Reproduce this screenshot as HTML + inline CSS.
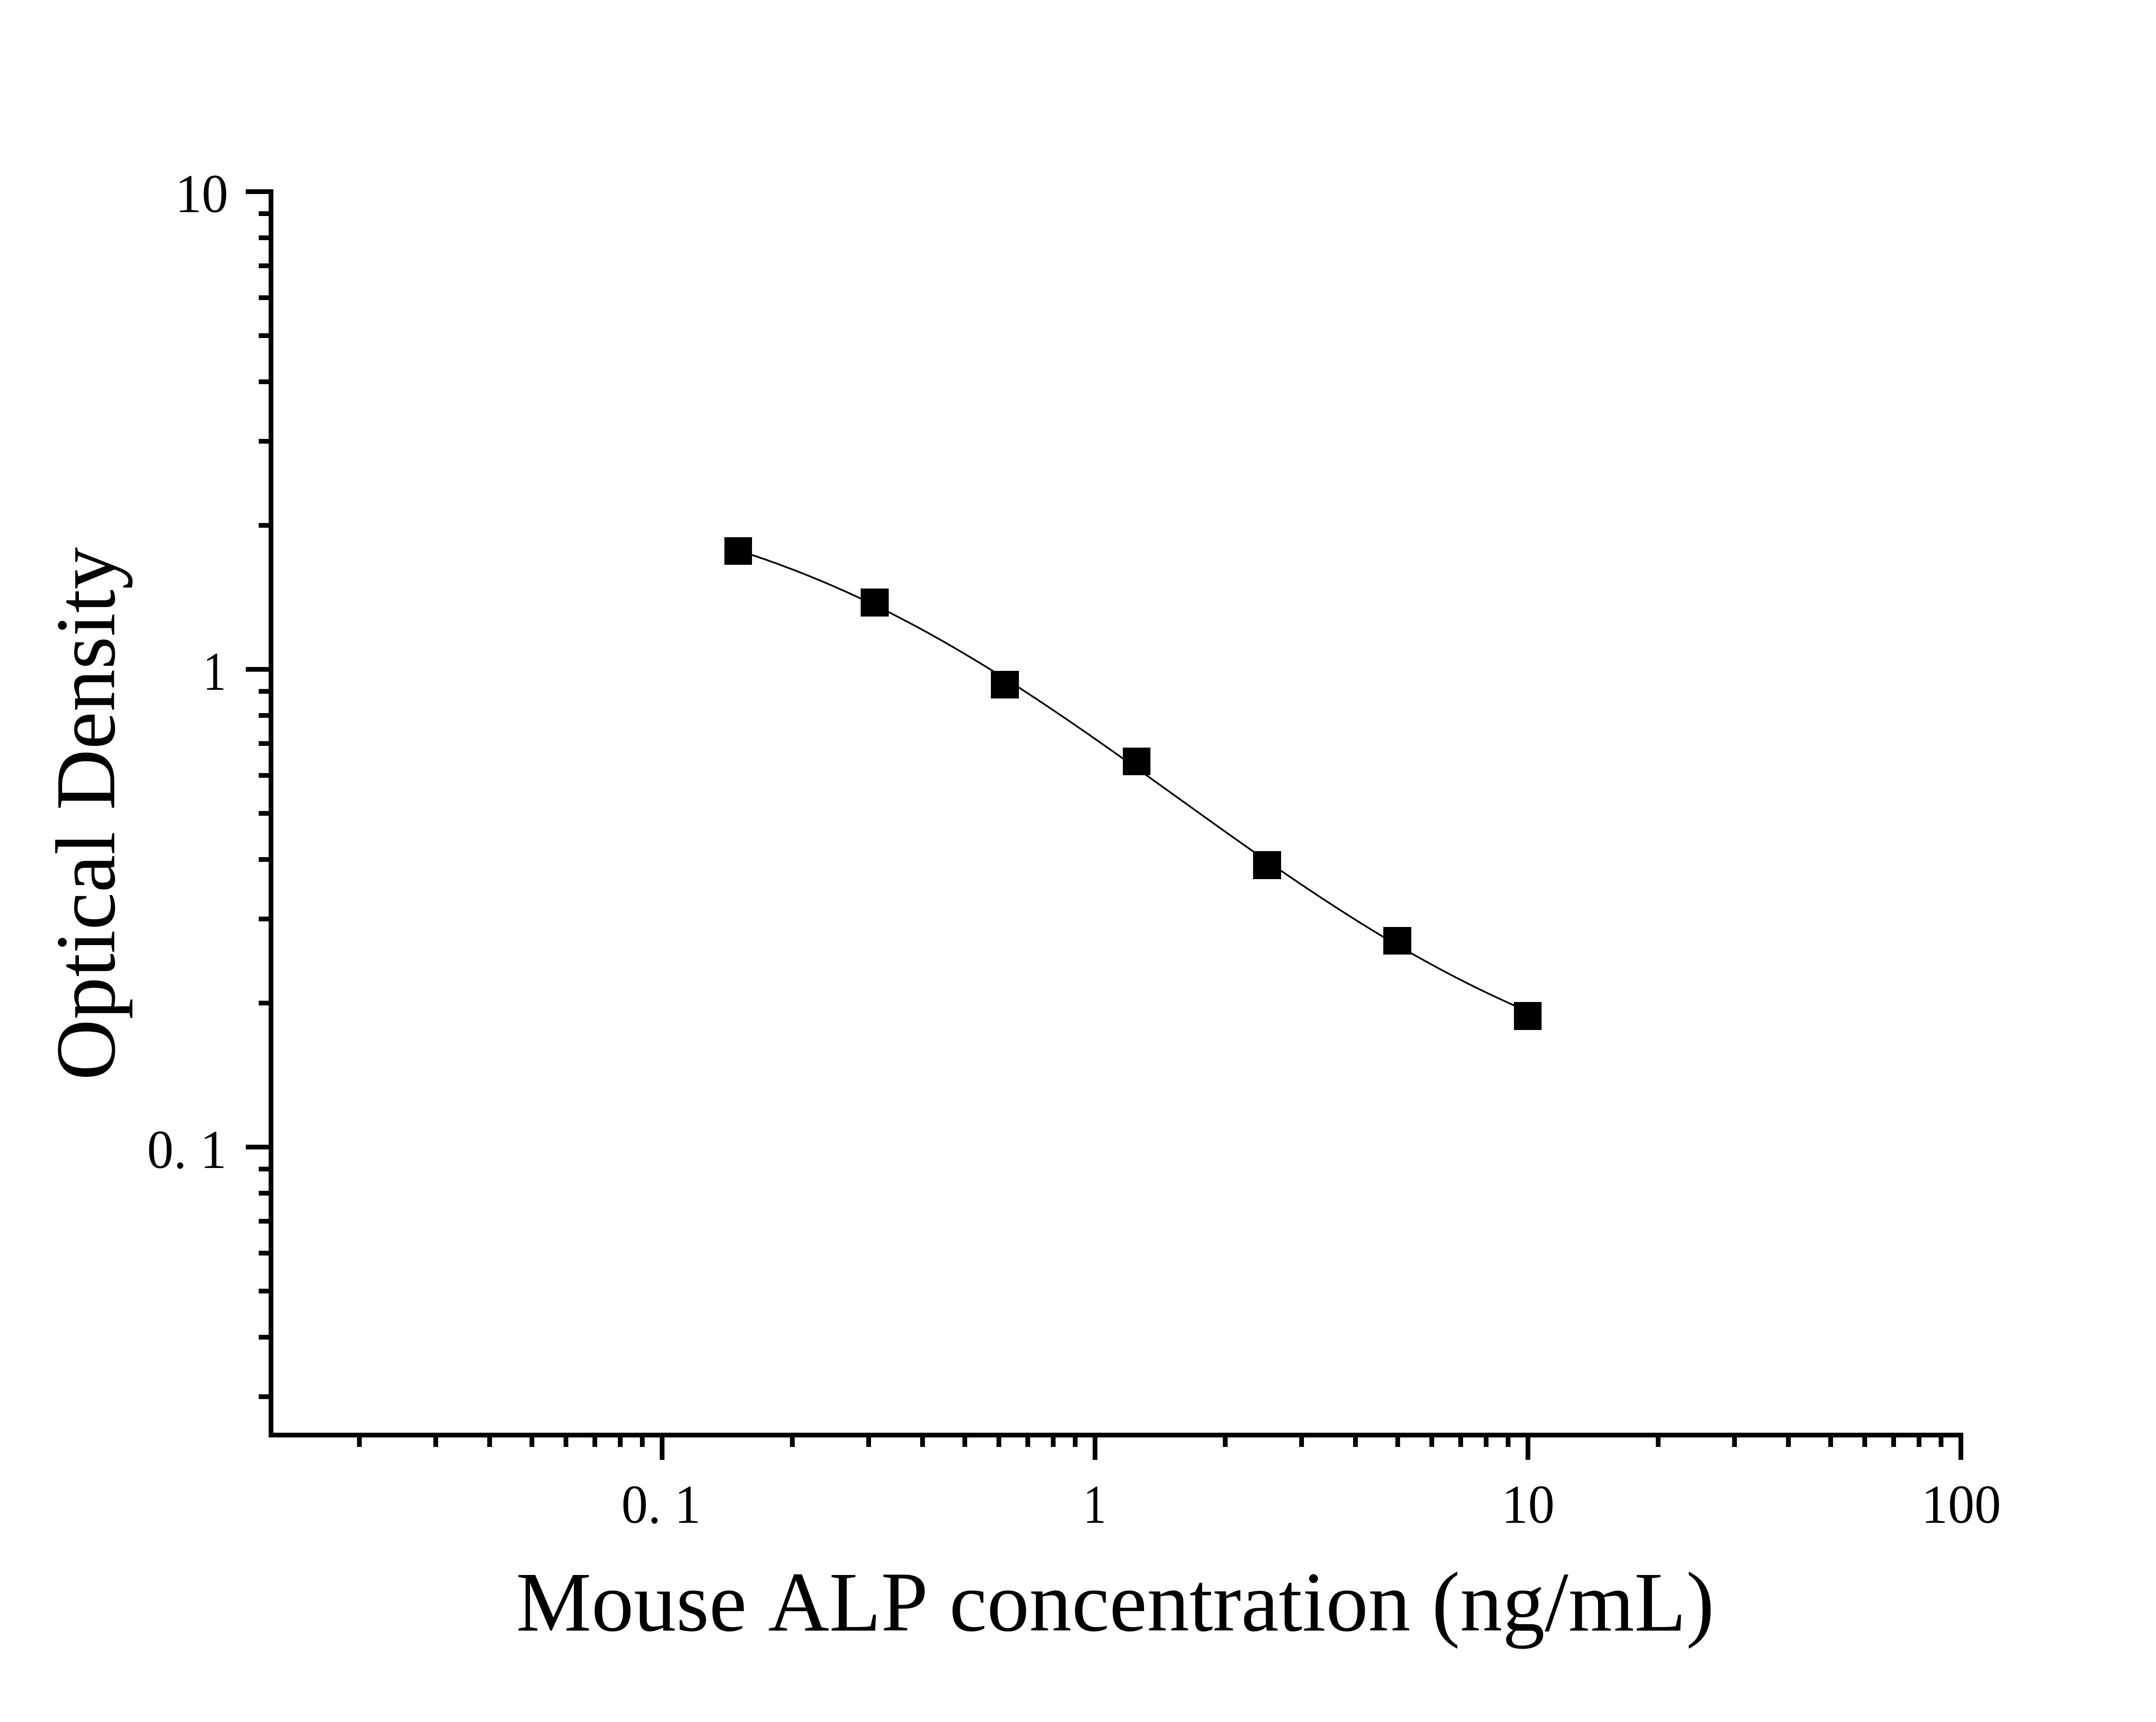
<!DOCTYPE html>
<html><head><meta charset="utf-8"><title>Mouse ALP standard curve</title>
<style>html,body{margin:0;padding:0;background:#fff;}body{width:5172px;height:3994px;overflow:hidden;}svg{display:block;}</style>
</head><body>
<svg width="5172" height="3994" viewBox="0 0 5172 3994" font-family="'Liberation Serif', 'Times New Roman', serif" fill="#000" style="font-kerning:none">
<rect x="0" y="0" width="5172" height="3994" fill="#fff"/>
<rect x="623" y="439" width="11" height="2895"/>
<rect x="623" y="3323" width="3930" height="11"/>
<rect x="570" y="439" width="53" height="11"/>
<rect x="570" y="1547" width="53" height="11"/>
<rect x="570" y="2655" width="53" height="11"/>
<rect x="600" y="3234" width="23" height="11"/>
<rect x="600" y="3096" width="23" height="11"/>
<rect x="600" y="2989" width="23" height="11"/>
<rect x="600" y="2901" width="23" height="11"/>
<rect x="600" y="2827" width="23" height="11"/>
<rect x="600" y="2762" width="23" height="11"/>
<rect x="600" y="2706" width="23" height="11"/>
<rect x="600" y="2321" width="23" height="11"/>
<rect x="600" y="2126" width="23" height="11"/>
<rect x="600" y="1988" width="23" height="11"/>
<rect x="600" y="1881" width="23" height="11"/>
<rect x="600" y="1793" width="23" height="11"/>
<rect x="600" y="1719" width="23" height="11"/>
<rect x="600" y="1654" width="23" height="11"/>
<rect x="600" y="1598" width="23" height="11"/>
<rect x="600" y="1213" width="23" height="11"/>
<rect x="600" y="1018" width="23" height="11"/>
<rect x="600" y="880" width="23" height="11"/>
<rect x="600" y="773" width="23" height="11"/>
<rect x="600" y="685" width="23" height="11"/>
<rect x="600" y="611" width="23" height="11"/>
<rect x="600" y="546" width="23" height="11"/>
<rect x="600" y="490" width="23" height="11"/>
<rect x="1530" y="3334" width="11" height="52"/>
<rect x="2534" y="3334" width="11" height="52"/>
<rect x="3538" y="3334" width="11" height="52"/>
<rect x="4542" y="3334" width="11" height="52"/>
<rect x="828" y="3334" width="11" height="22"/>
<rect x="1005" y="3334" width="11" height="22"/>
<rect x="1130" y="3334" width="11" height="22"/>
<rect x="1228" y="3334" width="11" height="22"/>
<rect x="1307" y="3334" width="11" height="22"/>
<rect x="1374" y="3334" width="11" height="22"/>
<rect x="1433" y="3334" width="11" height="22"/>
<rect x="1484" y="3334" width="11" height="22"/>
<rect x="1832" y="3334" width="11" height="22"/>
<rect x="2009" y="3334" width="11" height="22"/>
<rect x="2134" y="3334" width="11" height="22"/>
<rect x="2232" y="3334" width="11" height="22"/>
<rect x="2311" y="3334" width="11" height="22"/>
<rect x="2378" y="3334" width="11" height="22"/>
<rect x="2437" y="3334" width="11" height="22"/>
<rect x="2488" y="3334" width="11" height="22"/>
<rect x="2836" y="3334" width="11" height="22"/>
<rect x="3013" y="3334" width="11" height="22"/>
<rect x="3138" y="3334" width="11" height="22"/>
<rect x="3236" y="3334" width="11" height="22"/>
<rect x="3315" y="3334" width="11" height="22"/>
<rect x="3382" y="3334" width="11" height="22"/>
<rect x="3441" y="3334" width="11" height="22"/>
<rect x="3492" y="3334" width="11" height="22"/>
<rect x="3840" y="3334" width="11" height="22"/>
<rect x="4017" y="3334" width="11" height="22"/>
<rect x="4142" y="3334" width="11" height="22"/>
<rect x="4240" y="3334" width="11" height="22"/>
<rect x="4319" y="3334" width="11" height="22"/>
<rect x="4386" y="3334" width="11" height="22"/>
<rect x="4445" y="3334" width="11" height="22"/>
<rect x="4496" y="3334" width="11" height="22"/>
<path d="M1712.0 1276.7 L1716.0 1278.0 L1720.0 1279.3 L1724.0 1280.6 L1728.0 1281.9 L1732.0 1283.2 L1736.0 1284.5 L1740.0 1285.8 L1744.0 1287.2 L1748.0 1288.5 L1752.0 1289.9 L1756.0 1291.2 L1760.0 1292.6 L1764.0 1294.0 L1768.0 1295.3 L1772.0 1296.7 L1776.0 1298.1 L1780.0 1299.5 L1784.0 1301.0 L1788.0 1302.4 L1792.0 1303.8 L1796.0 1305.2 L1800.0 1306.7 L1804.0 1308.2 L1808.0 1309.6 L1812.0 1311.1 L1816.0 1312.6 L1820.0 1314.1 L1824.0 1315.6 L1828.0 1317.1 L1832.0 1318.6 L1836.0 1320.1 L1840.0 1321.6 L1844.0 1323.2 L1848.0 1324.7 L1852.0 1326.3 L1856.0 1327.9 L1860.0 1329.4 L1864.0 1331.0 L1868.0 1332.6 L1872.0 1334.2 L1876.0 1335.8 L1880.0 1337.4 L1884.0 1339.1 L1888.0 1340.7 L1892.0 1342.3 L1896.0 1344.0 L1900.0 1345.7 L1904.0 1347.3 L1908.0 1349.0 L1912.0 1350.7 L1916.0 1352.4 L1920.0 1354.1 L1924.0 1355.8 L1928.0 1357.5 L1932.0 1359.3 L1936.0 1361.0 L1940.0 1362.8 L1944.0 1364.5 L1948.0 1366.3 L1952.0 1368.1 L1956.0 1369.8 L1960.0 1371.6 L1964.0 1373.4 L1968.0 1375.2 L1972.0 1377.1 L1976.0 1378.9 L1980.0 1380.7 L1984.0 1382.6 L1988.0 1384.4 L1992.0 1386.3 L1996.0 1388.2 L2000.0 1390.0 L2004.0 1391.9 L2008.0 1393.8 L2012.0 1395.7 L2016.0 1397.6 L2020.0 1399.6 L2024.0 1401.5 L2028.0 1403.4 L2032.0 1405.4 L2036.0 1407.4 L2040.0 1409.3 L2044.0 1411.3 L2048.0 1413.3 L2052.0 1415.3 L2056.0 1417.3 L2060.0 1419.3 L2064.0 1421.3 L2068.0 1423.3 L2072.0 1425.4 L2076.0 1427.4 L2080.0 1429.5 L2084.0 1431.5 L2088.0 1433.6 L2092.0 1435.7 L2096.0 1437.8 L2100.0 1439.9 L2104.0 1442.0 L2108.0 1444.1 L2112.0 1446.2 L2116.0 1448.3 L2120.0 1450.5 L2124.0 1452.6 L2128.0 1454.7 L2132.0 1456.9 L2136.0 1459.1 L2140.0 1461.3 L2144.0 1463.4 L2148.0 1465.6 L2152.0 1467.8 L2156.0 1470.1 L2160.0 1472.3 L2164.0 1474.5 L2168.0 1476.7 L2172.0 1479.0 L2176.0 1481.2 L2180.0 1483.5 L2184.0 1485.7 L2188.0 1488.0 L2192.0 1490.3 L2196.0 1492.6 L2200.0 1494.9 L2204.0 1497.2 L2208.0 1499.5 L2212.0 1501.8 L2216.0 1504.2 L2220.0 1506.5 L2224.0 1508.8 L2228.0 1511.2 L2232.0 1513.6 L2236.0 1515.9 L2240.0 1518.3 L2244.0 1520.7 L2248.0 1523.1 L2252.0 1525.5 L2256.0 1527.9 L2260.0 1530.3 L2264.0 1532.7 L2268.0 1535.1 L2272.0 1537.5 L2276.0 1540.0 L2280.0 1542.4 L2284.0 1544.9 L2288.0 1547.3 L2292.0 1549.8 L2296.0 1552.3 L2300.0 1554.8 L2304.0 1557.2 L2308.0 1559.7 L2312.0 1562.2 L2316.0 1564.7 L2320.0 1567.3 L2324.0 1569.8 L2328.0 1572.3 L2332.0 1574.8 L2336.0 1577.4 L2340.0 1579.9 L2344.0 1582.5 L2348.0 1585.0 L2352.0 1587.6 L2356.0 1590.2 L2360.0 1592.7 L2364.0 1595.3 L2368.0 1597.9 L2372.0 1600.5 L2376.0 1603.1 L2380.0 1605.7 L2384.0 1608.3 L2388.0 1610.9 L2392.0 1613.6 L2396.0 1616.2 L2400.0 1618.8 L2404.0 1621.5 L2408.0 1624.1 L2412.0 1626.8 L2416.0 1629.4 L2420.0 1632.1 L2424.0 1634.8 L2428.0 1637.4 L2432.0 1640.1 L2436.0 1642.8 L2440.0 1645.5 L2444.0 1648.2 L2448.0 1650.9 L2452.0 1653.6 L2456.0 1656.3 L2460.0 1659.0 L2464.0 1661.7 L2468.0 1664.4 L2472.0 1667.1 L2476.0 1669.9 L2480.0 1672.6 L2484.0 1675.3 L2488.0 1678.1 L2492.0 1680.8 L2496.0 1683.6 L2500.0 1686.3 L2504.0 1689.1 L2508.0 1691.8 L2512.0 1694.6 L2516.0 1697.4 L2520.0 1700.1 L2524.0 1702.9 L2528.0 1705.7 L2532.0 1708.5 L2536.0 1711.3 L2540.0 1714.1 L2544.0 1716.9 L2548.0 1719.7 L2552.0 1722.5 L2556.0 1725.3 L2560.0 1728.1 L2564.0 1730.9 L2568.0 1733.7 L2572.0 1736.5 L2576.0 1739.3 L2580.0 1742.1 L2584.0 1745.0 L2588.0 1747.8 L2592.0 1750.6 L2596.0 1753.4 L2600.0 1756.3 L2604.0 1759.1 L2608.0 1762.0 L2612.0 1764.8 L2616.0 1767.6 L2620.0 1770.5 L2624.0 1773.3 L2628.0 1776.2 L2632.0 1779.0 L2636.0 1781.9 L2640.0 1784.7 L2644.0 1787.6 L2648.0 1790.4 L2652.0 1793.3 L2656.0 1796.2 L2660.0 1799.0 L2664.0 1801.9 L2668.0 1804.7 L2672.0 1807.6 L2676.0 1810.5 L2680.0 1813.3 L2684.0 1816.2 L2688.0 1819.1 L2692.0 1821.9 L2696.0 1824.8 L2700.0 1827.7 L2704.0 1830.5 L2708.0 1833.4 L2712.0 1836.3 L2716.0 1839.2 L2720.0 1842.0 L2724.0 1844.9 L2728.0 1847.8 L2732.0 1850.7 L2736.0 1853.5 L2740.0 1856.4 L2744.0 1859.3 L2748.0 1862.1 L2752.0 1865.0 L2756.0 1867.9 L2760.0 1870.7 L2764.0 1873.6 L2768.0 1876.5 L2772.0 1879.4 L2776.0 1882.2 L2780.0 1885.1 L2784.0 1888.0 L2788.0 1890.8 L2792.0 1893.7 L2796.0 1896.5 L2800.0 1899.4 L2804.0 1902.3 L2808.0 1905.1 L2812.0 1908.0 L2816.0 1910.8 L2820.0 1913.7 L2824.0 1916.6 L2828.0 1919.4 L2832.0 1922.3 L2836.0 1925.1 L2840.0 1927.9 L2844.0 1930.8 L2848.0 1933.6 L2852.0 1936.5 L2856.0 1939.3 L2860.0 1942.1 L2864.0 1945.0 L2868.0 1947.8 L2872.0 1950.6 L2876.0 1953.5 L2880.0 1956.3 L2884.0 1959.1 L2888.0 1961.9 L2892.0 1964.7 L2896.0 1967.6 L2900.0 1970.4 L2904.0 1973.2 L2908.0 1976.0 L2912.0 1978.8 L2916.0 1981.6 L2920.0 1984.4 L2924.0 1987.2 L2928.0 1989.9 L2932.0 1992.7 L2936.0 1995.5 L2940.0 1998.3 L2944.0 2001.1 L2948.0 2003.8 L2952.0 2006.6 L2956.0 2009.4 L2960.0 2012.1 L2964.0 2014.9 L2968.0 2017.6 L2972.0 2020.4 L2976.0 2023.1 L2980.0 2025.8 L2984.0 2028.6 L2988.0 2031.3 L2992.0 2034.0 L2996.0 2036.7 L3000.0 2039.5 L3004.0 2042.2 L3008.0 2044.9 L3012.0 2047.6 L3016.0 2050.3 L3020.0 2053.0 L3024.0 2055.6 L3028.0 2058.3 L3032.0 2061.0 L3036.0 2063.7 L3040.0 2066.3 L3044.0 2069.0 L3048.0 2071.7 L3052.0 2074.3 L3056.0 2077.0 L3060.0 2079.6 L3064.0 2082.2 L3068.0 2084.9 L3072.0 2087.5 L3076.0 2090.1 L3080.0 2092.7 L3084.0 2095.3 L3088.0 2097.9 L3092.0 2100.5 L3096.0 2103.1 L3100.0 2105.7 L3104.0 2108.3 L3108.0 2110.8 L3112.0 2113.4 L3116.0 2115.9 L3120.0 2118.5 L3124.0 2121.0 L3128.0 2123.6 L3132.0 2126.1 L3136.0 2128.6 L3140.0 2131.2 L3144.0 2133.7 L3148.0 2136.2 L3152.0 2138.7 L3156.0 2141.2 L3160.0 2143.7 L3164.0 2146.1 L3168.0 2148.6 L3172.0 2151.1 L3176.0 2153.5 L3180.0 2156.0 L3184.0 2158.4 L3188.0 2160.9 L3192.0 2163.3 L3196.0 2165.7 L3200.0 2168.2 L3204.0 2170.6 L3208.0 2173.0 L3212.0 2175.4 L3216.0 2177.7 L3220.0 2180.1 L3224.0 2182.5 L3228.0 2184.9 L3232.0 2187.2 L3236.0 2189.6 L3240.0 2191.9 L3244.0 2194.3 L3248.0 2196.6 L3252.0 2198.9 L3256.0 2201.2 L3260.0 2203.5 L3264.0 2205.8 L3268.0 2208.1 L3272.0 2210.4 L3276.0 2212.7 L3280.0 2214.9 L3284.0 2217.2 L3288.0 2219.4 L3292.0 2221.7 L3296.0 2223.9 L3300.0 2226.1 L3304.0 2228.4 L3308.0 2230.6 L3312.0 2232.8 L3316.0 2235.0 L3320.0 2237.2 L3324.0 2239.3 L3328.0 2241.5 L3332.0 2243.7 L3336.0 2245.8 L3340.0 2248.0 L3344.0 2250.1 L3348.0 2252.2 L3352.0 2254.3 L3356.0 2256.5 L3360.0 2258.6 L3364.0 2260.7 L3368.0 2262.7 L3372.0 2264.8 L3376.0 2266.9 L3380.0 2268.9 L3384.0 2271.0 L3388.0 2273.0 L3392.0 2275.1 L3396.0 2277.1 L3400.0 2279.1 L3404.0 2281.1 L3408.0 2283.1 L3412.0 2285.1 L3416.0 2287.1 L3420.0 2289.1 L3424.0 2291.1 L3428.0 2293.0 L3432.0 2295.0 L3436.0 2296.9 L3440.0 2298.8 L3444.0 2300.8 L3448.0 2302.7 L3452.0 2304.6 L3456.0 2306.5 L3460.0 2308.4 L3464.0 2310.2 L3468.0 2312.1 L3472.0 2314.0 L3476.0 2315.8 L3480.0 2317.7 L3484.0 2319.5 L3488.0 2321.3 L3492.0 2323.2 L3496.0 2325.0 L3500.0 2326.8 L3504.0 2328.6 L3508.0 2330.3 L3512.0 2332.1 L3516.0 2333.9 L3520.0 2335.6 L3524.0 2337.4 L3528.0 2339.1 L3532.0 2340.9 L3536.0 2342.6 L3540.0 2344.3 L3543.0 2345.6" fill="none" stroke="#000" stroke-width="4" stroke-linejoin="round"/>
<rect x="1680" y="1246" width="64" height="64"/>
<rect x="1996" y="1365" width="65" height="65"/>
<rect x="2298" y="1556" width="65" height="64"/>
<rect x="2604" y="1734" width="64" height="64"/>
<rect x="2906" y="1974" width="65" height="65"/>
<rect x="3208" y="2150" width="65" height="64"/>
<rect x="3511" y="2324" width="64" height="65"/>
<text transform="translate(406.19 491.9) scale(0.97 1)" font-size="127">10</text>
<text transform="translate(470.61 1600.4) scale(0.85 1)" font-size="127">1</text>
<text transform="translate(340.91 2708.7) scale(0.97 1)" font-size="127">0. 1</text>
<text transform="translate(1440.91 3532.0) scale(0.97 1)" font-size="127">0. 1</text>
<text transform="translate(2511.71 3532.4) scale(0.85 1)" font-size="127">1</text>
<text transform="translate(3482.24 3532.0) scale(0.97 1)" font-size="127">10</text>
<text transform="translate(4455.84 3532.0) scale(0.97 1)" font-size="127">100</text>
<text x="1196.69" y="3782" font-size="196.6">Mouse ALP concentration (ng/mL)</text>
<text transform="translate(265 2505.83) rotate(-90)" font-size="196.2">Optical Density</text>
</svg>
</body></html>
